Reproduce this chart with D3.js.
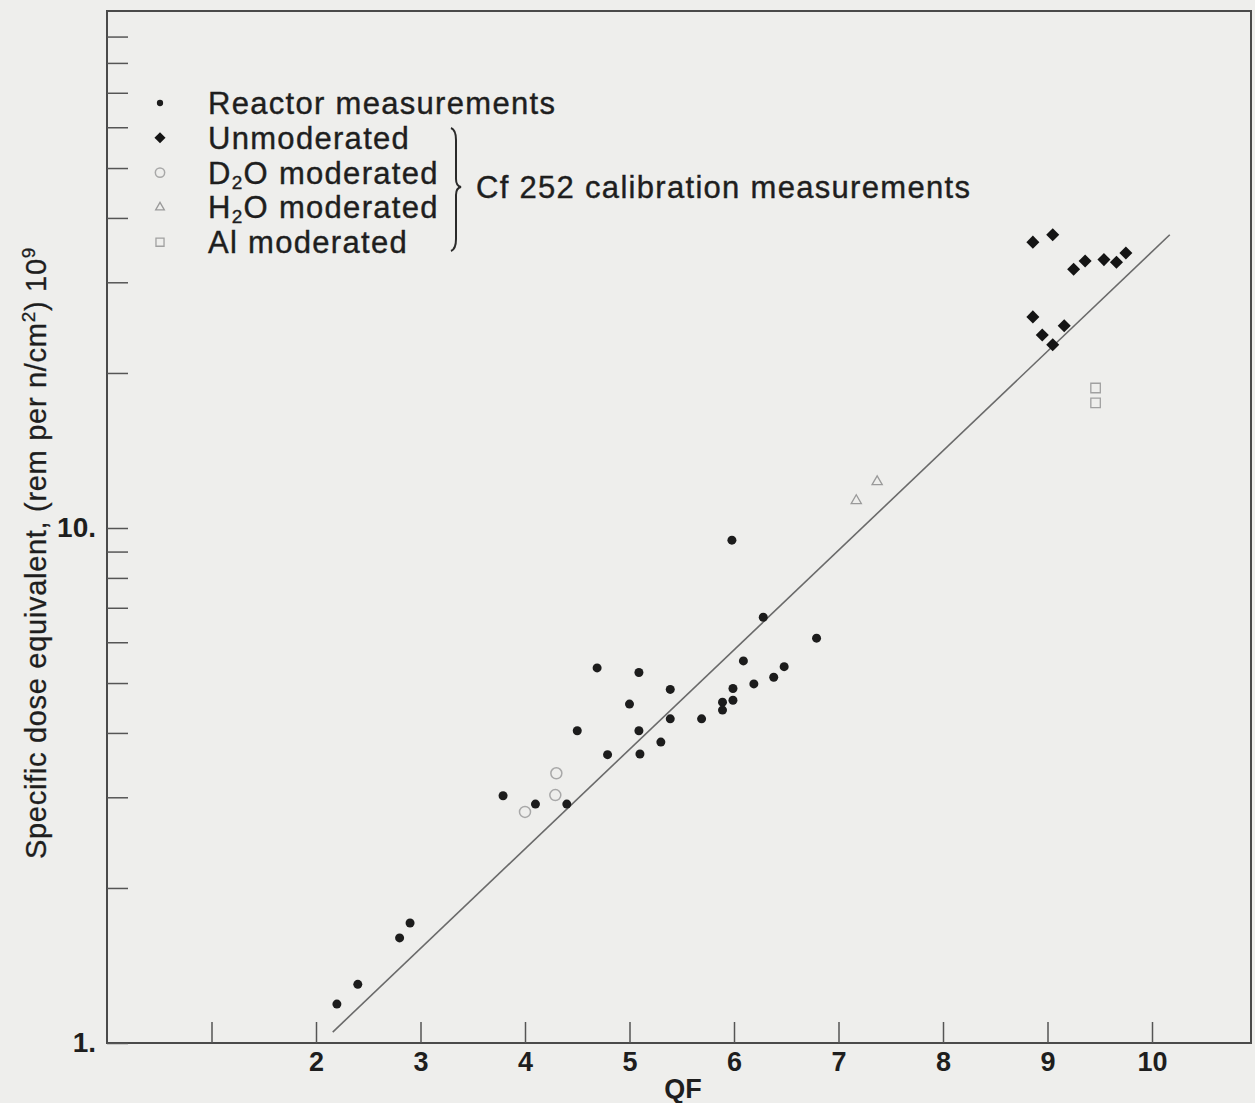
<!DOCTYPE html>
<html>
<head>
<meta charset="utf-8">
<script src="https://cdn.jsdelivr.net/npm/d3@7"></script>
<style>
  html, body { margin: 0; padding: 0; background: #eeeeec; }
  svg { display: block; }
  text { font-family: "Liberation Sans", Arial, Helvetica, sans-serif; fill: #1e1e1e; }
</style>
</head>
<body>
<svg id="chart" width="1255" height="1103"></svg>
<script>
// Reactor measurements: [QF, specific dose equivalent]
const reactor = [
  [2.20, 1.19], [2.40, 1.30], [2.80, 1.60], [2.90, 1.71],
  [3.79, 3.02], [4.10, 2.91], [4.40, 2.91], [4.50, 4.04],
  [4.69, 5.35], [4.79, 3.63], [5.00, 4.55], [5.09, 4.04],
  [5.10, 3.64], [5.09, 5.24], [5.30, 3.84], [5.39, 4.86],
  [5.39, 4.26], [5.69, 4.26], [5.89, 4.59], [5.89, 4.43],
  [5.99, 4.88], [5.99, 4.63], [5.98, 9.47], [6.09, 5.52],
  [6.19, 4.98], [6.28, 6.71], [6.38, 5.13], [6.48, 5.38],
  [6.79, 6.11]
];
// Cf 252 calibration measurements
const unmoderated = [
  [8.86, 35.9], [9.05, 37.1], [9.25, 31.8], [9.36, 33.0],
  [9.54, 33.2], [9.66, 32.8], [9.75, 34.2], [8.86, 25.7],
  [8.95, 23.7], [9.05, 22.7], [9.16, 24.7]
];
const d2oModerated = [[4.30, 3.34], [4.29, 3.03], [4.00, 2.81]];
const h2oModerated = [[7.37, 12.3], [7.17, 11.3]];
const alModerated = [[9.46, 18.7], [9.46, 17.5]];
// Fitted line
const fitLine = [[2.16, 1.05], [10.17, 37.1]];

const xTicks = [1, 2, 3, 4, 5, 6, 7, 8, 9, 10];
const xTickLabels = ["", "2", "3", "4", "5", "6", "7", "8", "9", "10"];
const yTicks = [1, 2, 3, 4, 5, 6, 7, 8, 9, 10, 20, 30, 40, 50, 60, 70, 80, 90];
const yTickLabels = { 1: "1.", 10: "10." };

const legendItems = [
  { kind: "reactor", label: ["Reactor measurements"] },
  { kind: "unmod", label: ["Unmoderated"] },
  { kind: "d2o", label: ["D", "2", "O moderated"] },
  { kind: "h2o", label: ["H", "2", "O moderated"] },
  { kind: "al", label: ["Al moderated"] }
];
const braceLabel = "Cf 252 calibration measurements";

const svg = d3.select("#chart");
const plotLeft = 107, plotRight = 1251, plotTop = 11, plotBottom = 1043;

const x = d3.scaleLinear().domain([0, 10]).range([plotLeft, 1152]);
const y = d3.scaleLog().domain([1, 100]).range([plotBottom, 13]);

// frame
svg.append("rect")
  .attr("x", plotLeft).attr("y", plotTop)
  .attr("width", plotRight - plotLeft).attr("height", plotBottom - plotTop)
  .attr("fill", "none").attr("stroke", "#4a4a4a").attr("stroke-width", 2);

// x axis
const xAxis = svg.append("g")
  .attr("transform", `translate(0,${plotBottom})`)
  .call(d3.axisBottom(x).tickValues(xTicks)
    .tickFormat((d, i) => xTickLabels[i])
    .tickSizeInner(-21).tickSizeOuter(0).tickPadding(9));
xAxis.select(".domain").remove();
xAxis.selectAll(".tick line").attr("stroke", "#555").attr("stroke-width", 1.5);
xAxis.selectAll(".tick text")
  .style("font-size", "27px").style("font-weight", "bold")
  .attr("fill", "#1e1e1e");

// y axis
const yAxis = svg.append("g")
  .attr("transform", `translate(${plotLeft},0)`)
  .call(d3.axisLeft(y).tickValues(yTicks)
    .tickFormat(d => yTickLabels[d] || "")
    .tickSizeInner(-21).tickSizeOuter(0).tickPadding(11));
yAxis.select(".domain").remove();
yAxis.selectAll(".tick line").attr("stroke", "#555").attr("stroke-width", 1.5);
yAxis.selectAll(".tick text")
  .style("font-size", "28px").style("font-weight", "bold")
  .attr("fill", "#1e1e1e");

// axis titles
svg.append("text")
  .attr("x", 683).attr("y", 1098)
  .attr("text-anchor", "middle")
  .style("font-size", "27px").style("font-weight", "bold")
  .text("QF");

const yt = svg.append("text")
  .attr("transform", "translate(46,553) rotate(-90)")
  .attr("text-anchor", "middle")
  .style("font-size", "29px")
  .style("letter-spacing", "0.7px")
  .attr("stroke", "#1e1e1e").attr("stroke-width", 0.3);
yt.append("tspan").text("Specific dose equivalent, (rem per n/cm");
yt.append("tspan").attr("dy", -11).style("font-size", "19px").text("2");
yt.append("tspan").attr("dy", 11).text(") 10");
yt.append("tspan").attr("dy", -11).style("font-size", "19px").text("9");

// fitted line
svg.append("path")
  .datum(fitLine)
  .attr("d", d3.line().x(d => x(d[0])).y(d => y(d[1])))
  .attr("fill", "none").attr("stroke", "#6a6a6a").attr("stroke-width", 1.6);

// marker drawing helpers
function drawMarker(g, kind, cx, cy, scale) {
  const s = scale || 1;
  if (kind === "reactor") {
    g.append("circle").attr("cx", cx).attr("cy", cy).attr("r", 4.5 * s)
      .attr("fill", "#1c1c1c");
  } else if (kind === "unmod") {
    g.append("path")
      .attr("d", d3.symbol().type(d3.symbolSquare).size(85 * s * s)())
      .attr("transform", `translate(${cx},${cy}) rotate(45)`)
      .attr("fill", "#141414");
  } else if (kind === "d2o") {
    g.append("circle").attr("cx", cx).attr("cy", cy).attr("r", 5.5 * s)
      .attr("fill", "none").attr("stroke", "#a8a8a8").attr("stroke-width", 1.5);
  } else if (kind === "h2o") {
    g.append("path")
      .attr("d", d3.symbol().type(d3.symbolTriangle).size(45 * s * s)())
      .attr("transform", `translate(${cx},${cy})`)
      .attr("fill", "none").attr("stroke", "#9a9a9a").attr("stroke-width", 1.3);
  } else if (kind === "al") {
    g.append("path")
      .attr("d", d3.symbol().type(d3.symbolSquare).size(90 * s * s)())
      .attr("transform", `translate(${cx},${cy})`)
      .attr("fill", "none").attr("stroke", "#a0a0a0").attr("stroke-width", 1.3);
  }
}

const marks = svg.append("g");
[["reactor", reactor], ["unmod", unmoderated], ["d2o", d2oModerated],
 ["h2o", h2oModerated], ["al", alModerated]].forEach(([kind, data]) => {
  data.forEach(d => drawMarker(marks, kind, x(d[0]), y(d[1])));
});

// legend
const legend = svg.append("g");
legendItems.forEach((item, i) => {
  const ly = 103 + i * 34.8;
  drawMarker(legend, item.kind, 160, ly, item.kind === "reactor" ? 0.7 : 0.85);
  const t = legend.append("text")
    .attr("x", 208).attr("y", ly + 11)
    .style("font-size", "31px").style("letter-spacing", "1.3px")
    .attr("stroke", "#1e1e1e").attr("stroke-width", 0.4);
  if (item.label.length === 1) {
    t.text(item.label[0]);
  } else {
    t.append("tspan").text(item.label[0]);
    t.append("tspan").attr("dy", 5).style("font-size", "19px").text(item.label[1]);
    t.append("tspan").attr("dy", -5).text(item.label[2]);
  }
});

// brace grouping the calibration entries
const bx = 455, bTop = 128, bMid = 187, bBot = 251;
legend.append("path")
  .attr("d", `M${bx - 4},${bTop} Q${bx + 1},${bTop + 2} ${bx + 1},${bTop + 12}
              L${bx + 1},${bMid - 8} Q${bx + 1},${bMid - 1} ${bx + 6},${bMid}
              Q${bx + 1},${bMid + 1} ${bx + 1},${bMid + 8}
              L${bx + 1},${bBot - 12} Q${bx + 1},${bBot - 2} ${bx - 4},${bBot}`)
  .attr("fill", "none").attr("stroke", "#2a2a2a").attr("stroke-width", 2);
legend.append("text")
  .attr("x", 476).attr("y", 198)
  .style("font-size", "31px").style("letter-spacing", "1.3px")
  .attr("stroke", "#1e1e1e").attr("stroke-width", 0.4)
  .text(braceLabel);
</script>
</body>
</html>
